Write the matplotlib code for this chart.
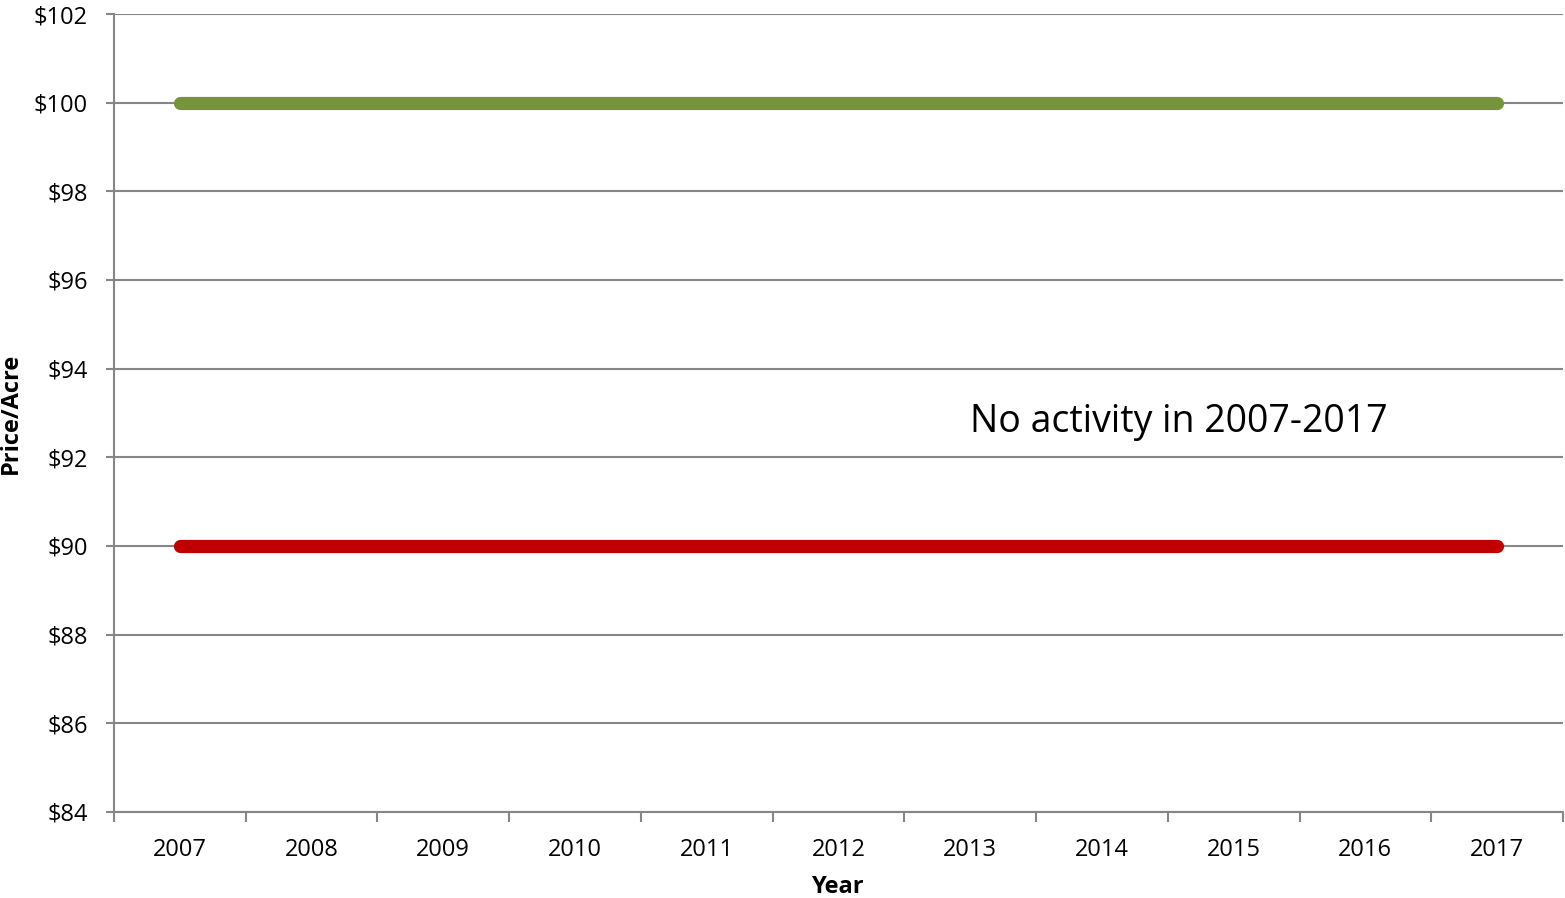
import matplotlib.pyplot as plt
import numpy as np

plt.rcParams['font.family'] = ['Open Sans', 'DejaVu Sans']

years = ['2007', '2008', '2009', '2010', '2011', '2012', '2013', '2014', '2015', '2016', '2017']
high_price = [100, 100, 100, 100, 100, 100, 100, 100, 100, 100, 100]
low_price = [90, 90, 90, 90, 90, 90, 90, 90, 90, 90, 90]
note = 'No activity in 2007-2017'

fig = plt.figure(figsize=(15.65, 8.98), dpi=100)
ax = fig.add_axes([0.0728, 0.0958, 0.9259, 0.8886])

x = np.arange(len(years))
ax.plot(x, high_price, color='#77933C', linewidth=9.5, solid_capstyle='round', zorder=3)
ax.plot(x, low_price, color='#C00000', linewidth=9.5, solid_capstyle='round', zorder=3)

ax.set_xlim(-0.5, len(years) - 0.5)
ax.set_ylim(84, 102)
ax.set_yticks(np.arange(84, 103, 2))
ax.set_yticklabels(['$%d' % v for v in range(84, 103, 2)], fontsize=17)
ax.set_xticks(x)
ax.set_xticklabels(years, fontsize=17)
ax.set_xticks(np.arange(-0.5, len(years), 1), minor=True)

grid_col = '#868686'
ax.yaxis.grid(True, color=grid_col, linewidth=1.5)
ax.set_axisbelow(True)
ax.tick_params(axis='x', which='major', length=0, pad=19)
ax.tick_params(axis='x', which='minor', length=7, width=1.5, color=grid_col)
ax.tick_params(axis='y', length=6, width=1.5, color=grid_col, pad=13)

for side in ['top', 'right']:
    ax.spines[side].set_visible(False)
for side in ['left', 'bottom']:
    ax.spines[side].set_color(grid_col)
    ax.spines[side].set_linewidth(1.5)

ax.set_xlabel('Year', fontsize=17, fontweight='bold', va='center')
ax.set_ylabel('Price/Acre', fontsize=17, fontweight='bold', ha='center', va='center')
ax.xaxis.set_label_coords(0.5, -0.094)
ax.yaxis.set_label_coords(-0.071, 0.5)

ax.text(6, 92.8, note, fontsize=27, ha='left', va='center')

fig.savefig('out.png', dpi=100)
